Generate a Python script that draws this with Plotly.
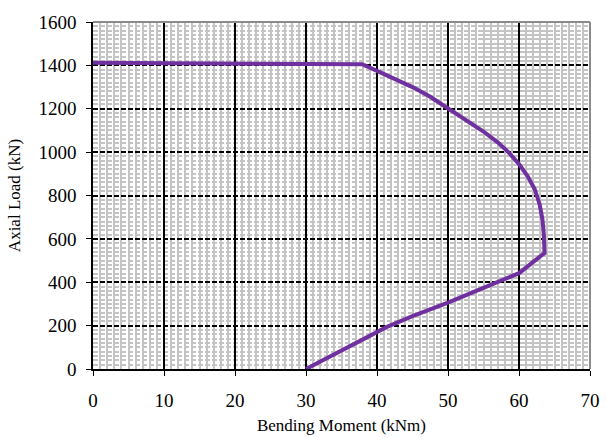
import plotly.graph_objects as go

# Interaction diagram data (Bending Moment kNm, Axial Load kN)
moment = [0, 10, 20, 30, 37.9, 40.0, 42.5, 45.0, 47.5, 50.0, 52.5, 55.0, 57.0, 58.5, 60.0, 61.2, 62.2, 62.9, 63.3, 63.5, 63.6,
          60.0, 55.0, 50.0, 45.0, 41.4, 30.0]
axial = [1412, 1411, 1410, 1408, 1405, 1375, 1340, 1300, 1255, 1200, 1150, 1095, 1045, 1000, 945, 890, 830, 760, 690, 620, 535,
         442, 374, 306, 244, 194, 0]

x_ticks = [0, 10, 20, 30, 40, 50, 60, 70]
y_ticks = [0, 200, 400, 600, 800, 1000, 1200, 1400, 1600]

font_family = "Liberation Serif, Times New Roman, serif"

fig = go.Figure()
fig.add_trace(go.Scatter(
    x=moment, y=axial, mode="lines",
    line=dict(color="#7030A0", width=4),
    showlegend=False,
))

fig.update_xaxes(
    range=[0, 70], tickvals=x_ticks, ticks="outside", ticklen=5, tickcolor="black",
    showline=True, linecolor="black", linewidth=1.5,
    showgrid=True, gridcolor="black", gridwidth=1.5,
    minor=dict(dtick=1, showgrid=True, gridcolor="#c4c4c4", gridwidth=1.5),
    title=dict(text="Bending Moment (kNm)", font=dict(size=17, family=font_family, color="black"), standoff=10),
    tickfont=dict(size=19, family=font_family, color="black"),
    zeroline=False, ticklabelstandoff=8, automargin=False,
)
fig.update_yaxes(
    range=[0, 1600], tickvals=y_ticks, ticks="outside", ticklen=5, tickcolor="black",
    showline=True, linecolor="black", linewidth=1.5,
    showgrid=True, gridcolor="black", gridwidth=1.5, griddash="5px,2px",
    minor=dict(dtick=20, showgrid=True, gridcolor="#c4c4c4", gridwidth=1.5),
    title=dict(text="Axial Load (kN)", font=dict(size=17, family=font_family, color="black"), standoff=14),
    tickfont=dict(size=19, family=font_family, color="black"),
    zeroline=False, ticklabelstandoff=6, automargin=False,
)

fig.add_shape(type="line", xref="paper", yref="paper", x0=0, x1=1, y0=1, y1=1,
              line=dict(color="#8c8c8c", width=2), layer="above")
fig.add_shape(type="line", xref="paper", yref="paper", x0=1, x1=1, y0=0, y1=1,
              line=dict(color="#8c8c8c", width=2), layer="above")

fig.update_layout(
    width=606, height=438,
    margin=dict(l=93, r=16, t=22, b=69, autoexpand=False),
    plot_bgcolor="white", paper_bgcolor="white",
    font=dict(family=font_family, color="black"),
)

fig.write_html(
    "out.html",
    config={"displayModeBar": False},
    post_script="document.body.style.margin='0';document.body.style.overflow='hidden';",
)
